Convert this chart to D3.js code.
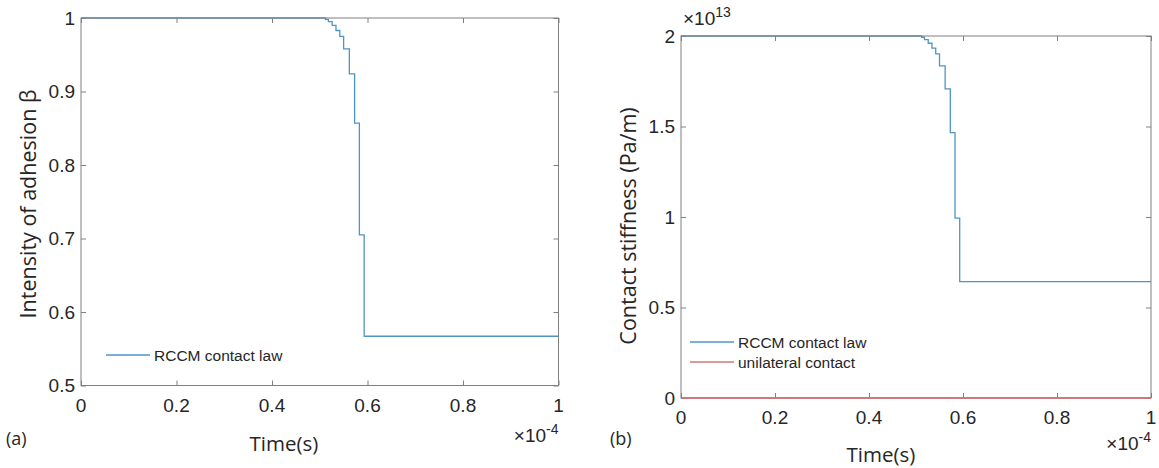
<!DOCTYPE html>
<html><head><meta charset="utf-8">
<script src="https://cdnjs.cloudflare.com/ajax/libs/d3/7.8.5/d3.min.js"></script>
<style>body{margin:0;background:#fff} svg{display:block}</style>
</head><body><svg id="fig" width="1159" height="468"></svg>
<script>
// Time instants (×1e-4 s) at which the adhesion state changes
const stepTimes = [0, 0.512, 0.518, 0.526, 0.534, 0.542, 0.550, 0.562, 0.573, 0.583, 0.593, 1.0];
// Intensity of adhesion β after each change
const beta = [1, 0.998, 0.995, 0.990, 0.983, 0.975, 0.958, 0.924, 0.857, 0.705, 0.567, 0.567];
// Contact stiffness (×1e13 Pa/m), RCCM law
const stiffnessRCCM = [2, 1.993, 1.980, 1.960, 1.933, 1.901, 1.835, 1.708, 1.466, 0.994, 0.643, 0.643];
// Unilateral contact stiffness (×1e13 Pa/m)
const unilateralTimes = [0, 1];
const stiffnessUnilateral = [0, 0];

const xTicks = [0, 0.2, 0.4, 0.6, 0.8, 1];
const betaTicks = [0.5, 0.6, 0.7, 0.8, 0.9, 1];
const stiffTicks = [0, 0.5, 1, 1.5, 2];

const blue = "#4f95c4";
const red = "#d27676";
const axisCol = "#808080";
const textCol = "#262626";
const tickFont = "'Liberation Sans', Arial, sans-serif";
const labelFont = "'Open Sans', 'Noto Sans', sans-serif";

const svg = d3.select("#fig");

function panel(cfg) {
  const g = svg.append("g");
  const x = d3.scaleLinear().domain([0, 1]).range([cfg.left, cfg.right]);
  const y = d3.scaleLinear().domain(cfg.yDomain).range([cfg.bottom, cfg.top]);
  const tl = 5;

  // ticks on all four sides, pointing inward
  g.append("g").attr("transform", `translate(0,${cfg.bottom})`)
    .call(d3.axisBottom(x).tickValues(xTicks).tickSize(-tl).tickFormat(""));
  g.append("g").attr("transform", `translate(0,${cfg.top})`)
    .call(d3.axisTop(x).tickValues(xTicks).tickSize(-tl).tickFormat(""));
  g.append("g").attr("transform", `translate(${cfg.left},0)`)
    .call(d3.axisLeft(y).tickValues(cfg.yTicks).tickSize(-tl).tickFormat(""));
  g.append("g").attr("transform", `translate(${cfg.right},0)`)
    .call(d3.axisRight(y).tickValues(cfg.yTicks).tickSize(-tl).tickFormat(""));
  g.selectAll(".domain").remove();
  g.selectAll(".tick line").attr("stroke", axisCol).attr("stroke-width", 1);

  // tick labels
  g.selectAll(".xl").data(xTicks).join("text")
    .attr("x", d => x(d)).attr("y", cfg.xLabelY)
    .attr("text-anchor", "middle").attr("dominant-baseline", "central")
    .attr("font-family", tickFont).attr("font-size", 19).attr("fill", textCol)
    .text(d3.format("~g"));
  g.selectAll(".yl").data(cfg.yTicks).join("text")
    .attr("x", cfg.left - 6).attr("y", d => y(d))
    .attr("text-anchor", "end").attr("dominant-baseline", "central")
    .attr("font-family", tickFont).attr("font-size", 19).attr("fill", textCol)
    .text(d3.format("~g"));

  // series
  const line = d3.line().x(d => x(d[0])).y(d => y(d[1])).curve(d3.curveStepAfter);
  cfg.series.forEach(s => {
    g.append("path").datum(d3.zip(s.t, s.v))
      .attr("d", line).attr("fill", "none")
      .attr("stroke", s.color).attr("stroke-width", 1.3);
  });

  // frame
  g.append("rect").attr("x", cfg.left).attr("y", cfg.top)
    .attr("width", cfg.right - cfg.left).attr("height", cfg.bottom - cfg.top)
    .attr("fill", "none").attr("stroke", axisCol).attr("stroke-width", 1);
  // series lying on the axis line stay visible above the frame
  cfg.series.filter(s => s.onTop).forEach(s => {
    g.append("path").datum(d3.zip(s.t, s.v))
      .attr("d", line).attr("fill", "none")
      .attr("stroke", s.color).attr("stroke-width", 1.6);
  });

  // legend
  cfg.series.forEach((s, i) => {
    const ly = cfg.legendY + i * 20;
    g.append("line").attr("x1", cfg.legendX).attr("x2", cfg.legendX + 44)
      .attr("y1", ly).attr("y2", ly).attr("stroke", s.color).attr("stroke-width", 1.3);
    g.append("text").attr("x", cfg.legendX + 48).attr("y", ly)
      .attr("dominant-baseline", "central")
      .attr("font-family", tickFont).attr("font-size", 15.5).attr("fill", textCol)
      .text(s.name);
  });

  // x exponent
  const ex = g.append("text").attr("x", cfg.right).attr("y", cfg.xExpY)
    .attr("text-anchor", "end").attr("font-family", tickFont)
    .attr("font-size", 19).attr("fill", textCol);
  ex.append("tspan").text("\u00d710");
  ex.append("tspan").attr("dy", -8).attr("font-size", 14).text("-4");

  // axis titles
  g.append("text").attr("x", cfg.xTitleX).attr("y", cfg.xTitleY)
    .attr("text-anchor", "middle").attr("dominant-baseline", "central")
    .attr("font-family", labelFont).attr("font-size", 20.5).attr("fill", textCol)
    .text("Time(s)");
  g.append("text")
    .attr("transform", `translate(${cfg.yTitleX},${cfg.yTitleY}) rotate(-90)`)
    .attr("text-anchor", "middle").attr("dominant-baseline", "central")
    .attr("font-family", labelFont).attr("font-size", 21.5).attr("fill", textCol)
    .text(cfg.yTitle);
  g.append("text").attr("x", cfg.tagX).attr("y", cfg.tagY)
    .attr("dominant-baseline", "central")
    .attr("font-family", labelFont).attr("font-size", 18).attr("fill", textCol)
    .text(cfg.tag);
  return {g, x, y};
}

panel({
  left: 81, right: 558.5, top: 18, bottom: 385.5,
  yDomain: [0.5, 1], yTicks: betaTicks,
  xLabelY: 405, xExpY: 442, xTitleX: 284, xTitleY: 443,
  yTitleX: 27, yTitleY: 204, yTitle: "Intensity of adhesion \u03b2",
  tag: "(a)", tagX: 6, tagY: 438,
  legendX: 106, legendY: 355,
  series: [{name: "RCCM contact law", t: stepTimes, v: beta, color: blue}]
});

const right = panel({
  left: 681, right: 1151, top: 36, bottom: 398,
  yDomain: [0, 2], yTicks: stiffTicks,
  xLabelY: 417, xExpY: 450, xTitleX: 881, xTitleY: 454,
  yTitleX: 627, yTitleY: 226, yTitle: "Contact stiffness (Pa/m)",
  tag: "(b)", tagX: 610, tagY: 438,
  legendX: 690, legendY: 342,
  series: [
    {name: "RCCM contact law", t: stepTimes, v: stiffnessRCCM, color: blue},
    {name: "unilateral contact", t: unilateralTimes, v: stiffnessUnilateral, color: red, onTop: true}
  ]
});

// y exponent of the stiffness axis
const ey = right.g.append("text").attr("x", 683).attr("y", 25)
  .attr("font-family", tickFont).attr("font-size", 19).attr("fill", textCol);
ey.append("tspan").text("\u00d710");
ey.append("tspan").attr("dy", -8).attr("font-size", 14).text("13");
</script></body></html>
